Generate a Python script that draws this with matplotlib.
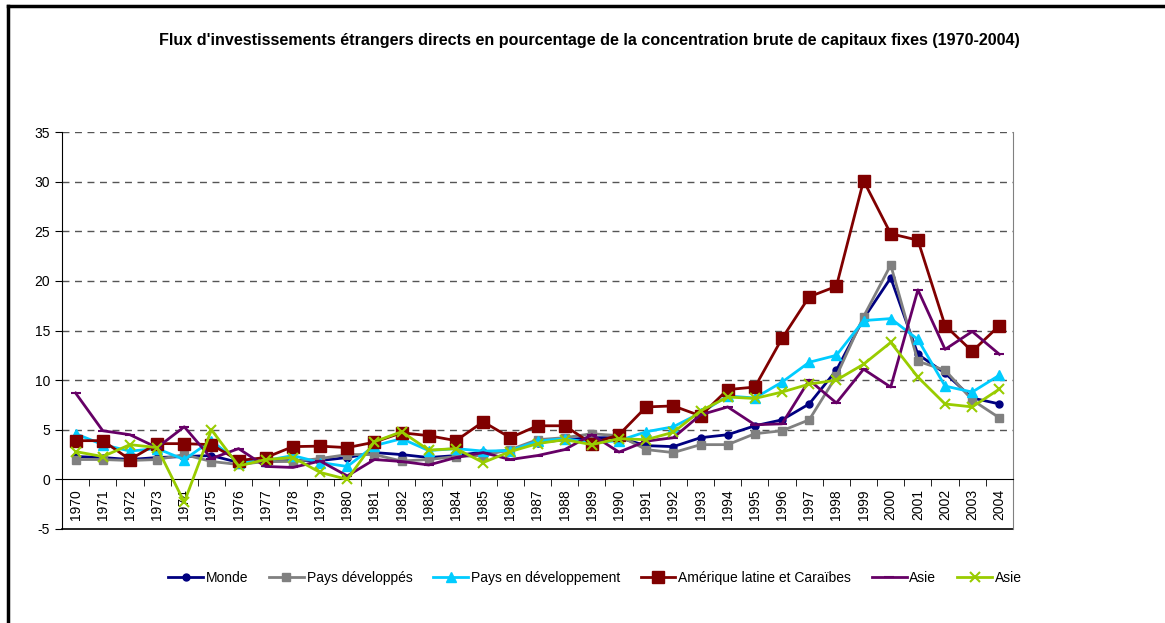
import matplotlib
matplotlib.use("Agg")
import matplotlib.pyplot as plt
from matplotlib.lines import Line2D

plt.rcParams['font.family'] = ['Liberation Sans', 'DejaVu Sans']
plt.rcParams['axes.unicode_minus'] = False

# Data
years = list(range(1970, 2005))

monde = [2.3, 2.2, 2.0, 2.2, 2.3, 2.4, 1.7, 1.8, 1.9, 1.9, 2.2, 2.7, 2.5, 2.2, 2.4, 2.75, 2.9, 3.7,
         4.0, 4.2, 4.2, 3.4, 3.3, 4.2, 4.5, 5.4, 6.0, 7.6, 11.0, 16.2, 20.3, 12.6, 10.7, 8.2, 7.6]
pays_dev = [2.0, 2.0, 1.9, 2.0, 2.5, 1.8, 1.5, 1.8, 1.8, 2.1, 2.5, 2.5, 1.85, 2.0, 2.3, 2.4, 3.0, 4.0,
            4.2, 4.6, 4.4, 3.0, 2.7, 3.5, 3.5, 4.6, 4.9, 6.0, 10.4, 16.4, 21.6, 11.9, 11.0, 8.0, 6.2]
pays_en_dev = [4.6, 3.5, 2.85, 3.1, 2.0, 3.9, 1.7, 1.9, 2.4, 1.7, 1.3, 3.4, 4.1, 2.9, 3.1, 2.85, 2.9, 3.85,
               4.1, 3.7, 3.9, 4.8, 5.3, 6.7, 8.4, 8.2, 9.8, 11.8, 12.5, 16.0, 16.2, 14.1, 9.4, 8.8, 10.5]
amerique_latine = [3.9, 3.9, 2.0, 3.6, 3.6, 3.5, 1.9, 2.2, 3.3, 3.35, 3.2, 3.75, 4.7, 4.4, 3.9, 5.8, 4.2, 5.4,
                   5.4, 3.6, 4.5, 7.3, 7.4, 6.4, 9.05, 9.3, 14.2, 18.4, 19.45, 30.1, 24.75, 24.1, 15.5, 12.9, 15.5]
asie_1 = [8.7, 4.9, 4.5, 3.2, 5.3, 2.1, 3.1, 1.3, 1.2, 1.85, 0.35, 2.0, 1.8, 1.45, 2.2, 2.7, 2.0, 2.4,
          3.0, 4.5, 2.75, 3.85, 4.2, 6.5, 7.3, 5.5, 5.6, 10.0, 7.7, 11.1, 9.3, 19.1, 13.1, 14.9, 12.6]
asie_2 = [2.8, 2.3, 3.5, 3.2, -2.3, 5.0, 1.35, 2.0, 2.2, 0.7, 0.0, 3.8, 4.8, 2.95, 3.1, 1.7, 2.8, 3.6,
          4.0, 3.5, 4.1, 4.0, 4.75, 6.9, 8.3, 8.15, 8.8, 9.6, 10.0, 11.6, 13.8, 10.3, 7.6, 7.3, 9.1]

series = [
    ('Monde', monde, '#000080', 'o', 5),
    ('Pays développés', pays_dev, '#808080', 's', 6),
    ('Pays en développement', pays_en_dev, '#00CCFF', '^', 6.5),
    ('Amérique latine et Caraïbes', amerique_latine, '#800000', 's', 8),
    ('Asie', asie_1, '#660066', '_', 7),
    ('Asie', asie_2, '#99CC00', 'x', 7),
]

fig = plt.figure(figsize=(11.65, 6.23), dpi=100)
ax = fig.add_axes([62 / 1165, 1 - 529 / 623, (1013 - 62) / 1165, (529 - 132) / 623])

handles = []
for label, values, color, marker, ms in series:
    line, = ax.plot(years, values, color=color, linewidth=2, marker=marker, markersize=ms,
                    markeredgewidth=1.5 if marker in ('x', '_') else 1, label=label, zorder=3)
    handles.append(line)

ax.set_xlim(1969.5, 2004.5)
ax.set_ylim(-5, 35)
ax.set_yticks(range(-5, 36, 5))

# dashed gridlines
for v in range(5, 36, 5):
    ax.axhline(v, color='#555555', linestyle=(0, (5, 4)), linewidth=1, zorder=1)

# category axis at y = 0, ticks between years
ax.spines['bottom'].set_position(('data', 0))
ax.spines['top'].set_visible(False)
ax.spines['right'].set_color('#808080')
ax.spines['left'].set_color('black')
ax.set_xticks(years)
ax.set_xticklabels([str(y) for y in years], rotation=90, fontsize=10)
ax.set_xticks([y + 0.5 for y in range(1969, 2005)], minor=True)
ax.tick_params(axis='x', which='major', length=0, pad=7)
ax.tick_params(axis='x', which='minor', length=5, direction='out')
ax.tick_params(axis='y', length=5, direction='out', labelsize=10)
ax.axhline(-5, color='black', linewidth=1.2, zorder=2, clip_on=False)

fig.text(589 / 1165, 1 - 41 / 623,
         "Flux d'investissements étrangers directs en pourcentage de la concentration brute de capitaux fixes (1970-2004)",
         ha='center', va='center', fontsize=11.6, fontweight='bold')

fig.legend(handles=handles, loc='center', bbox_to_anchor=(595 / 1165, 1 - 578 / 623), ncol=6,
           frameon=False, fontsize=10, handlelength=2.5, columnspacing=1.5, handletextpad=0.2)

# outer chart border (left and top)
fig.add_artist(Line2D([8 / 1165, 8 / 1165], [0, 1 - 6 / 623], color='black', linewidth=2.5,
                      transform=fig.transFigure))
fig.add_artist(Line2D([8 / 1165, 1], [1 - 6 / 623, 1 - 6 / 623], color='black', linewidth=2.5,
                      transform=fig.transFigure))

fig.savefig('out.png', dpi=100)
